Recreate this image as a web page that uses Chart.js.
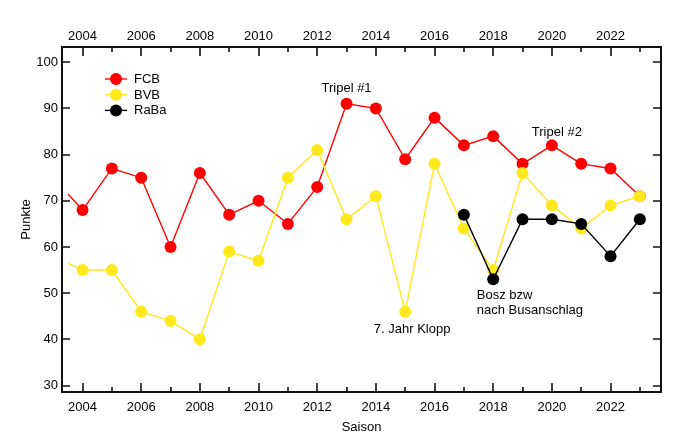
<!DOCTYPE html>
<html>
<head>
<meta charset="utf-8">
<script src="https://cdn.jsdelivr.net/npm/chart.js@4.4.1/dist/chart.umd.min.js"></script>
<style>
    html, body { margin: 0; padding: 0; background: #fff; }
    #wrap { width: 689px; height: 439px; }
</style>
</head>
<body>
<div id="wrap"><canvas id="chart" width="689" height="439"></canvas></div>
<script>
const seasons = [2003, 2004, 2005, 2006, 2007, 2008, 2009, 2010, 2011, 2012, 2013,
    2014, 2015, 2016, 2017, 2018, 2019, 2020, 2021, 2022, 2023];
const fcbPoints = [75, 68, 77, 75, 60, 76, 67, 70, 65, 73, 91, 90, 79, 88, 82, 84, 78, 82, 78, 77, 71];
const bvbPoints = [58, 55, 55, 46, 44, 40, 59, 57, 75, 81, 66, 71, 46, 78, 64, 55, 76, 69, 64, 69, 71];
const rabaPoints = [null, null, null, null, null, null, null, null, null, null, null,
    null, null, null, 67, 53, 66, 66, 65, 58, 66];

const xMajorTicks = [2004, 2006, 2008, 2010, 2012, 2014, 2016, 2018, 2020, 2022];
const xMinorTicks = [2005, 2007, 2009, 2011, 2013, 2015, 2017, 2019, 2021, 2023];
const yTicks = [30, 40, 50, 60, 70, 80, 90, 100];

const notes = [
    { text: 'Tripel #1', x: 2013, y: 94.4, align: 'center' },
    { text: 'Tripel #2', x: 2020.17, y: 84.8, align: 'center' },
    { text: '7. Jahr Klopp', x: 2013.93, y: 42.1, align: 'left' },
    { text: 'Bosz bzw', x: 2017.44, y: 49.6, align: 'left' },
    { text: 'nach Busanschlag', x: 2017.44, y: 46.3, align: 'left' },
];

const FONT = '"Liberation Sans", Arial, sans-serif';
const RED = 'rgb(255,0,0)';
const YELLOW = 'rgb(255,232,28)';
const BLACK = 'rgb(0,0,0)';

function toPoints(values) {
    return seasons.map((year, i) => ({ x: year, y: values[i] }));
}

function makeDataset(label, values, color, order) {
    return {
        label: label,
        data: toPoints(values),
        borderColor: color,
        backgroundColor: color,
        borderWidth: 1.4,
        pointRadius: 6,
        pointBorderWidth: 0,
        pointBackgroundColor: color,
        spanGaps: false,
        tension: 0,
        order: order,
        clip: { left: -6, top: 0, right: 0, bottom: 0 },
    };
}

const frameTicks = {
    id: 'frameTicks',
    afterDatasetsDraw(chart) {
        const { ctx, chartArea: a, scales } = chart;
        ctx.save();
        ctx.strokeStyle = '#111';
        ctx.lineWidth = 1.6;
        ctx.beginPath();
        xMajorTicks.forEach((v) => {
            const px = Math.round(scales.x.getPixelForValue(v));
            ctx.moveTo(px, a.bottom); ctx.lineTo(px, a.bottom - 9);
            ctx.moveTo(px, a.top); ctx.lineTo(px, a.top + 9);
        });
        xMinorTicks.forEach((v) => {
            const px = Math.round(scales.x.getPixelForValue(v));
            ctx.moveTo(px, a.bottom); ctx.lineTo(px, a.bottom - 5);
            ctx.moveTo(px, a.top); ctx.lineTo(px, a.top + 5);
        });
        yTicks.forEach((v) => {
            const py = Math.round(scales.y.getPixelForValue(v));
            ctx.moveTo(a.left, py); ctx.lineTo(a.left + 8, py);
            ctx.moveTo(a.right, py); ctx.lineTo(a.right - 8, py);
        });
        ctx.stroke();
        ctx.restore();
    },
};

const insideLegend = {
    id: 'insideLegend',
    afterDatasetsDraw(chart) {
        const ctx = chart.ctx;
        ctx.save();
        ctx.font = '13px ' + FONT;
        ctx.textBaseline = 'middle';
        ctx.textAlign = 'left';
        chart.data.datasets.forEach((ds, i) => {
            const y = 79 + i * 15.7;
            ctx.strokeStyle = ds.borderColor;
            ctx.lineWidth = 1.4;
            ctx.beginPath();
            ctx.moveTo(105, y);
            ctx.lineTo(127, y);
            ctx.stroke();
            ctx.fillStyle = ds.borderColor;
            ctx.beginPath();
            ctx.arc(116, y, 6, 0, Math.PI * 2);
            ctx.fill();
            ctx.fillStyle = '#000';
            ctx.fillText(ds.label, 134, y + 0.5);
        });
        ctx.restore();
    },
};

const noteLabels = {
    id: 'noteLabels',
    afterDatasetsDraw(chart) {
        const { ctx, scales } = chart;
        ctx.save();
        ctx.font = '13px ' + FONT;
        ctx.fillStyle = '#000';
        ctx.textBaseline = 'middle';
        notes.forEach((n) => {
            ctx.textAlign = n.align;
            ctx.fillText(n.text, scales.x.getPixelForValue(n.x), scales.y.getPixelForValue(n.y));
        });
        ctx.restore();
    },
};

const yearLabel = (value) => String(value);

new Chart(document.getElementById('chart'), {
    type: 'line',
    data: {
        datasets: [
            makeDataset('FCB', fcbPoints, RED, 3),
            makeDataset('BVB', bvbPoints, YELLOW, 2),
            makeDataset('RaBa', rabaPoints, BLACK, 1),
        ],
    },
    plugins: [frameTicks, insideLegend, noteLabels],
    options: {
        responsive: false,
        animation: false,
        devicePixelRatio: 1,
        layout: { padding: { left: 0, right: 28, top: 0, bottom: 0 } },
        plugins: {
            legend: { display: false },
            tooltip: { enabled: false },
        },
        scales: {
            x: {
                type: 'linear',
                position: 'bottom',
                min: 2003.3,
                max: 2023.72,
                afterBuildTicks: (scale) => { scale.ticks = xMajorTicks.map((v) => ({ value: v })); },
                afterFit: (scale) => { scale.height = 47; },
                grid: { display: false, drawTicks: false },
                border: { display: true, color: '#111', width: 2 },
                ticks: {
                    callback: yearLabel,
                    color: '#000',
                    padding: 8,
                    maxRotation: 0,
                    autoSkip: false,
                    font: { family: FONT, size: 13 },
                },
                title: {
                    display: true,
                    text: 'Saison',
                    color: '#000',
                    padding: { top: 0, bottom: 4 },
                    font: { family: FONT, size: 13 },
                },
            },
            x2: {
                type: 'linear',
                position: 'top',
                min: 2003.3,
                max: 2023.72,
                afterBuildTicks: (scale) => { scale.ticks = xMajorTicks.map((v) => ({ value: v })); },
                afterFit: (scale) => { scale.height = 47; },
                grid: { display: false, drawTicks: false },
                border: { display: true, color: '#111', width: 2 },
                ticks: {
                    callback: yearLabel,
                    color: '#000',
                    padding: 3,
                    maxRotation: 0,
                    autoSkip: false,
                    font: { family: FONT, size: 13 },
                },
            },
            y: {
                type: 'linear',
                position: 'left',
                min: 28.6,
                max: 103.3,
                afterBuildTicks: (scale) => { scale.ticks = yTicks.map((v) => ({ value: v })); },
                afterFit: (scale) => { scale.width = 62; },
                grid: { display: false, drawTicks: false },
                border: { display: true, color: '#111', width: 2 },
                ticks: {
                    color: '#000',
                    padding: 4,
                    font: { family: FONT, size: 13 },
                },
                title: {
                    display: true,
                    text: 'Punkte',
                    color: '#000',
                    padding: { top: 19, bottom: 0 },
                    font: { family: FONT, size: 13 },
                },
            },
            y2: {
                type: 'linear',
                position: 'right',
                min: 28.6,
                max: 103.3,
                afterFit: (scale) => { scale.width = 0; },
                grid: { display: false, drawTicks: false },
                border: { display: true, color: '#111', width: 2 },
                ticks: { display: false },
            },
        },
    },
});
</script>
</body>
</html>
